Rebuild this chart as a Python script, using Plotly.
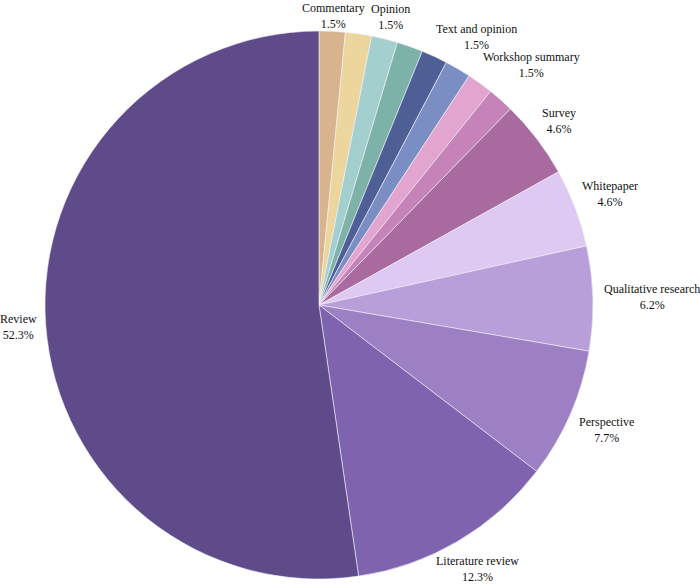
import math
import plotly.graph_objects as go

categories = ["Commentary", "Unlabelled 1", "Opinion", "Unlabelled 2",
              "Unlabelled 3", "Text and opinion", "Unlabelled 4", "Workshop summary",
              "Survey", "Whitepaper", "Qualitative research", "Perspective",
              "Literature review", "Review"]
counts = [1, 1, 1, 1, 1, 1, 1, 1, 3, 3, 4, 5, 8, 34]
show_label = [True, False, True, False, False, True, False, True,
              True, True, True, True, True, True]
colors = ["#D8B48E", "#EDD59E", "#A3D0CE", "#7DB2A9", "#4E5F96", "#7A8EC4",
          "#E2A5D0", "#C583B9", "#A96B9F", "#DDC9F1", "#B89FDA", "#9D80C3",
          "#7F63AE", "#5F4A8A"]

W, H = 700, 585
cx, cy, r = 319, 305, 274
GAP = 8
FONT = "Liberation Serif, 'Times New Roman', Times, serif"
FS = 12
HALF_BOX = 16


def text_width(s):
    w = 0.0
    for ch in s:
        if ch in "iltfjr .1I:":
            w += 3.6
        elif ch == "%":
            w += 10.0
        elif ch in "mwMW":
            w += 9.0
        elif ch.isupper():
            w += 8.0
        else:
            w += 5.9
    return w


def nearest_dist(bx, by, w, h):
    nx = max(abs(bx) - w / 2, 0)
    ny = max(abs(by) - h / 2, 0)
    return math.hypot(nx, ny)


total = sum(counts)
annotations = []
cum = 0
for name, v, show in zip(categories, counts, show_label):
    mid = (cum + v / 2) / total * 2 * math.pi
    cum += v
    if not show:
        continue
    pct = f"{100 * v / total:.1f}%"
    w = max(text_width(name), text_width(pct))
    h = 22.0
    sx, sy = math.sin(mid), -math.cos(mid)
    lo, hi = 0.0, 500.0
    for _ in range(60):
        m = (lo + hi) / 2
        if nearest_dist(m * sx, m * sy, w, h) < r + GAP:
            lo = m
        else:
            hi = m
    px, py = cx + lo * sx, cy + lo * sy
    py = min(max(py, HALF_BOX), H - HALF_BOX)
    annotations.append(dict(
        x=px / W, y=1 - py / H, xref="paper", yref="paper",
        xanchor="center", yanchor="middle", showarrow=False,
        text=f"{name}<br>{pct}", align="center", borderpad=0,
        font=dict(family=FONT, size=FS, color="#111111"),
    ))

fig = go.Figure(go.Pie(
    labels=categories,
    values=counts,
    sort=False,
    direction="clockwise",
    rotation=0,
    marker=dict(colors=colors, line=dict(color="#F4F0F8", width=0.6)),
    textinfo="none",
    domain=dict(x=[(cx - r) / W, (cx + r) / W],
                y=[(H - cy - r) / H, (H - cy + r) / H]),
    showlegend=False,
    hoverinfo="label+percent",
))

fig.update_layout(
    width=W, height=H,
    margin=dict(l=0, r=0, t=0, b=0),
    paper_bgcolor="white",
    plot_bgcolor="white",
    font=dict(family=FONT, size=FS, color="#111111"),
    annotations=annotations,
)

fig.write_html("out.html")
